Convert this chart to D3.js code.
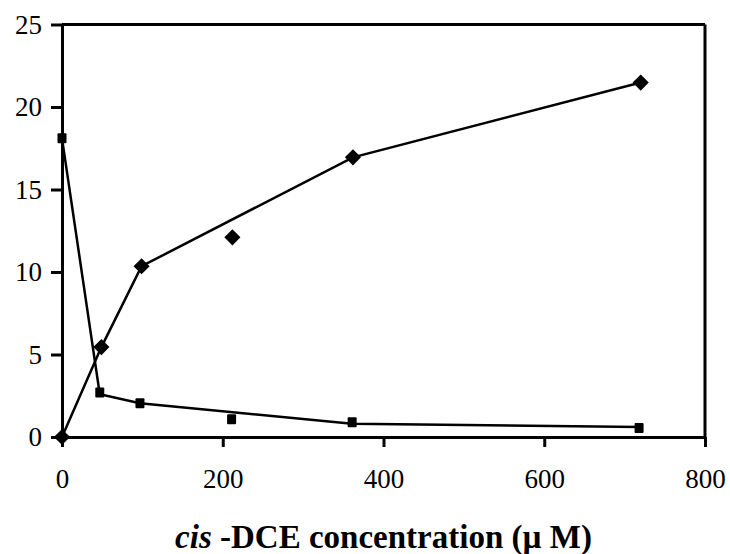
<!DOCTYPE html>
<html>
<head>
<meta charset="utf-8">
<script src="https://cdn.jsdelivr.net/npm/d3@7"></script>
<style>
  html, body { margin: 0; padding: 0; background: #fff; }
  svg { display: block; }
</style>
</head>
<body>
<svg id="chart" width="730" height="554"></svg>
<script>
// ---- data ----
const xTicks = [0, 200, 400, 600, 800];
const yTicks = [0, 5, 10, 15, 20, 25];

// diamond series (points)
const diamondX = [0, 49, 99, 212, 362, 720];
const diamondY = [0, 5.45, 10.35, 12.1, 16.95, 21.48];
// diamond series (connecting line)
const diamondLineX = [0, 49, 99, 362, 720];
const diamondLineY = [0, 5.45, 10.35, 16.95, 21.48];

// square series (points)
const squareX = [0, 47, 97, 211, 361, 718];
const squareY = [18.1, 2.7, 2.05, 1.08, 0.9, 0.55];
// square series (connecting line)
const squareLineX = [0, 47, 97, 361, 718];
const squareLineY = [18.1, 2.6, 2.05, 0.8, 0.6];

const xTitleItalic = "cis";
const xTitleRest = " -DCE concentration (\u00B5 M)";

// ---- layout ----
const svg = d3.select("#chart");
const L = 62, R = 705, T = 24.5, B = 437;
const x = d3.scaleLinear().domain([0, 800]).range([L, R]);
const y = d3.scaleLinear().domain([0, 25]).range([B, T]);

const font = "'Liberation Serif', 'Times New Roman', Times, serif";

// frame (top and right)
svg.append("line").attr("x1", L).attr("x2", R).attr("y1", T).attr("y2", T)
  .attr("stroke", "#000").attr("stroke-width", 3);
svg.append("line").attr("x1", R).attr("x2", R).attr("y1", T).attr("y2", B)
  .attr("stroke", "#000").attr("stroke-width", 3);

// axes
const xAxis = svg.append("g").attr("transform", `translate(0,${B})`)
  .call(d3.axisBottom(x).tickValues(xTicks).tickFormat(d3.format("d")).tickSizeInner(10).tickSizeOuter(0).tickPadding(22));
const yAxis = svg.append("g").attr("transform", `translate(${L},0)`)
  .call(d3.axisLeft(y).tickValues(yTicks).tickFormat(d3.format("d")).tickSizeInner(11).tickSizeOuter(0).tickPadding(9));
[xAxis, yAxis].forEach(g => {
  g.select(".domain").attr("stroke", "#000").attr("stroke-width", 3);
  g.selectAll(".tick line").attr("stroke", "#000").attr("stroke-width", 3);
  g.selectAll(".tick text").attr("fill", "#000")
    .style("font-family", font).style("font-size", "27px");
});

// lines
const lineGen = d3.line().x(d => x(d[0])).y(d => y(d[1]));
const dLine = diamondLineX.map((v, i) => [v, diamondLineY[i]]);
const sLine = squareLineX.map((v, i) => [v, squareLineY[i]]);
svg.append("path").datum(dLine).attr("d", lineGen)
  .attr("fill", "none").attr("stroke", "#000").attr("stroke-width", 2.5);
svg.append("path").datum(sLine).attr("d", lineGen)
  .attr("fill", "none").attr("stroke", "#000").attr("stroke-width", 2.5);

// markers
const dPts = diamondX.map((v, i) => [v, diamondY[i]]);
const sPts = squareX.map((v, i) => [v, squareY[i]]);
svg.selectAll("path.diamond").data(dPts).enter().append("path")
  .attr("class", "diamond")
  .attr("d", d3.symbol(d3.symbolSquare, 130)())
  .attr("transform", d => `translate(${x(d[0])},${y(d[1])}) rotate(45)`)
  .attr("fill", "#000");
svg.selectAll("rect.sq").data(sPts).enter().append("rect")
  .attr("class", "sq")
  .attr("x", d => x(d[0]) - 4.5).attr("y", d => y(d[1]) - 5)
  .attr("width", 9).attr("height", 10).attr("rx", 1)
  .attr("fill", "#000");

// x title
const title = svg.append("text")
  .attr("x", (L + R) / 2).attr("y", 548)
  .attr("text-anchor", "middle")
  .style("font-family", font).style("font-size", "33px").style("font-weight", "bold");
title.append("tspan").style("font-style", "italic").text(xTitleItalic);
title.append("tspan").text(xTitleRest);
</script>
</body>
</html>
